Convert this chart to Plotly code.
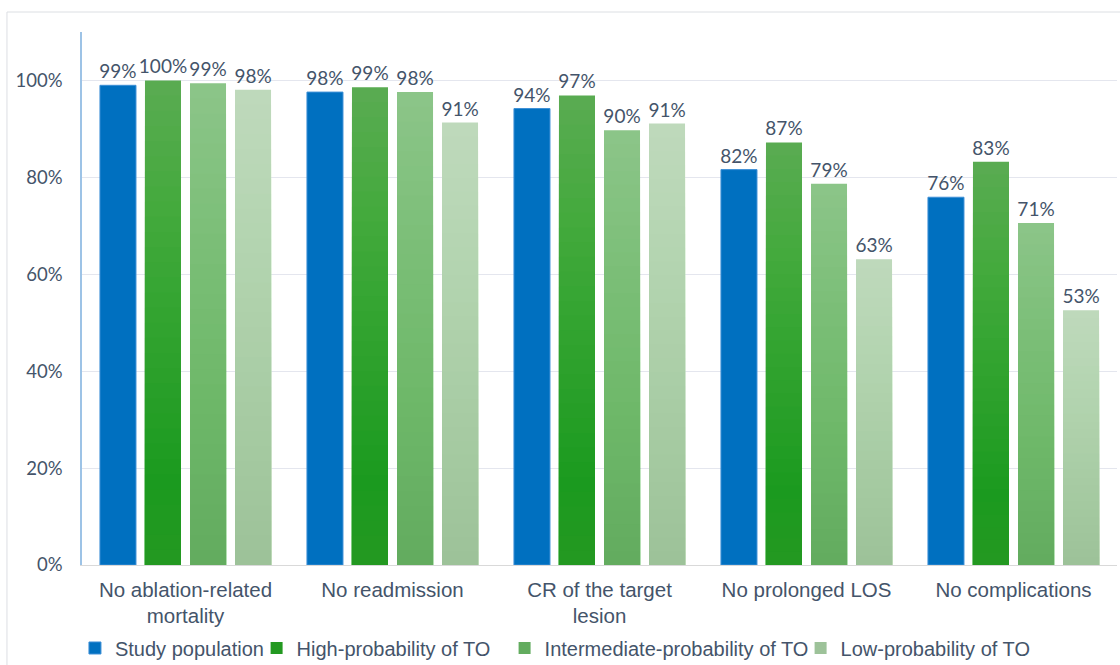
import plotly.graph_objects as go

categories = [
    "No ablation-related<br>mortality",
    "No readmission",
    "CR of the target<br>lesion",
    "No prolonged LOS",
    "No complications",
]
study_population = [0.990, 0.976, 0.942, 0.816, 0.759]
high_prob = [1.000, 0.986, 0.969, 0.872, 0.832]
intermediate_prob = [0.994, 0.976, 0.897, 0.787, 0.706]
low_prob = [0.981, 0.913, 0.911, 0.631, 0.526]

series_names = [
    "Study population",
    "High-probability of TO",
    "Intermediate-probability of TO",
    "Low-probability of TO",
]
y_tick_vals = [0, 0.2, 0.4, 0.6, 0.8, 1.0]
y_tick_text = ["0%", "20%", "40%", "60%", "80%", "100%"]

TEXT = "#44546a"
SEGMENTS = 32

# vertical gradient stops (fraction of bar height from the base -> colour)
gradients = {
    "High-probability of TO": [
        (0.00, (0x24, 0x99, 0x21)),
        (0.18, (0x1b, 0x9a, 0x1f)),
        (0.38, (0x2a, 0xa0, 0x2a)),
        (0.55, (0x35, 0xa5, 0x32)),
        (0.75, (0x45, 0xaa, 0x3e)),
        (1.00, (0x5a, 0xab, 0x52)),
    ],
    "Intermediate-probability of TO": [
        (0.00, (0x63, 0xab, 0x5f)),
        (0.35, (0x6e, 0xb8, 0x69)),
        (0.65, (0x7a, 0xbe, 0x76)),
        (1.00, (0x8c, 0xc5, 0x89)),
    ],
    "Low-probability of TO": [
        (0.00, (0x9c, 0xc2, 0x98)),
        (0.35, (0xa8, 0xcc, 0xa4)),
        (0.70, (0xb4, 0xd5, 0xb1)),
        (1.00, (0xbf, 0xd9, 0xbc)),
    ],
}

# horizontal start (paper fraction) of each legend entry, one legend per series
legend_x = [-0.0068, 0.1687, 0.4083, 0.6943]
LEGEND_Y = -0.1557


def colour_at(stops, f):
    for (f0, c0), (f1, c1) in zip(stops, stops[1:]):
        if f <= f1:
            t = (f - f0) / (f1 - f0) if f1 > f0 else 0
            r, g, b = (round(a + (b_ - a) * t) for a, b_ in zip(c0, c1))
            return f"rgb({r},{g},{b})"
    r, g, b = stops[-1][1]
    return f"rgb({r},{g},{b})"


def pct(v):
    return f"{v * 100:.0f}%"


label_font = dict(family="Lato", size=19, color=TEXT)
legend_ids = ["legend", "legend2", "legend3", "legend4"]

fig = go.Figure()

fig.add_trace(go.Bar(
    x=categories, y=study_population, name=series_names[0],
    offsetgroup="s0", legend=legend_ids[0],
    marker=dict(color="#0070c0", line=dict(color="#3d8fd6", width=1)),
    text=[pct(v) for v in study_population], textposition="outside",
    constraintext="none", cliponaxis=False, textfont=label_font,
))

# Gradient bars: overlapping bars from the base, tallest (top colour) first,
# each shorter one painted over it with the colour of a lower band.
for idx, (name, values) in enumerate(
        [(series_names[1], high_prob),
         (series_names[2], intermediate_prob),
         (series_names[3], low_prob)], start=1):
    stops = gradients[name]
    for k in range(SEGMENTS - 1, -1, -1):
        tallest = k == SEGMENTS - 1
        fig.add_trace(go.Bar(
            x=categories,
            y=[v * (k + 1) / SEGMENTS for v in values],
            name=name,
            offsetgroup=f"s{idx}",
            legend=legend_ids[idx],
            showlegend=(k == 0),
            marker=dict(color=colour_at(stops, (k + 0.5) / SEGMENTS), line=dict(width=0)),
            text=[pct(v) for v in values] if tallest else None,
            textposition="outside" if tallest else "none",
            constraintext="none",
            cliponaxis=False,
            textfont=label_font,
            hoverinfo=None if tallest else "skip",
        ))

legend_style = dict(
    orientation="h", xanchor="left", y=LEGEND_Y, yanchor="middle",
    font=dict(family="Liberation Sans", size=20, color=TEXT),
    itemwidth=30, bgcolor="rgba(0,0,0,0)",
)

fig.update_layout(
    width=1120, height=665,
    margin=dict(l=82, r=3, t=32, b=100, autoexpand=False),
    paper_bgcolor="white", plot_bgcolor="white",
    barmode="group", bargap=0.13, bargroupgap=0.2,
    font=dict(family="Liberation Sans", size=20, color=TEXT),
    showlegend=True,
    legend=dict(x=legend_x[0], **legend_style),
    legend2=dict(x=legend_x[1], **legend_style),
    legend3=dict(x=legend_x[2], **legend_style),
    legend4=dict(x=legend_x[3], **legend_style),
    xaxis=dict(
        showline=True, linecolor="#d9d9d9", linewidth=1,
        showgrid=False, ticks="", ticklabelstandoff=6,
        tickfont=dict(family="Liberation Sans", size=20.5, color=TEXT),
    ),
    yaxis=dict(
        range=[0, 1.1], tickvals=y_tick_vals, ticktext=y_tick_text,
        showgrid=True, gridcolor="#e4e6ee", gridwidth=1, zeroline=False,
        showline=True, linecolor="#9dc3e6", linewidth=1.5,
        ticks="", ticklabelstandoff=14,
        tickfont=dict(family="Lato", size=18.5, color=TEXT),
    ),
    shapes=[dict(
        type="rect", xref="paper", yref="paper",
        x0=-0.0725, x1=1.2, y0=-0.4, y1=1.0375,
        line=dict(color="#dcdfe3", width=1), fillcolor="rgba(0,0,0,0)", layer="below",
    )],
)

fig.write_html("out.html")
